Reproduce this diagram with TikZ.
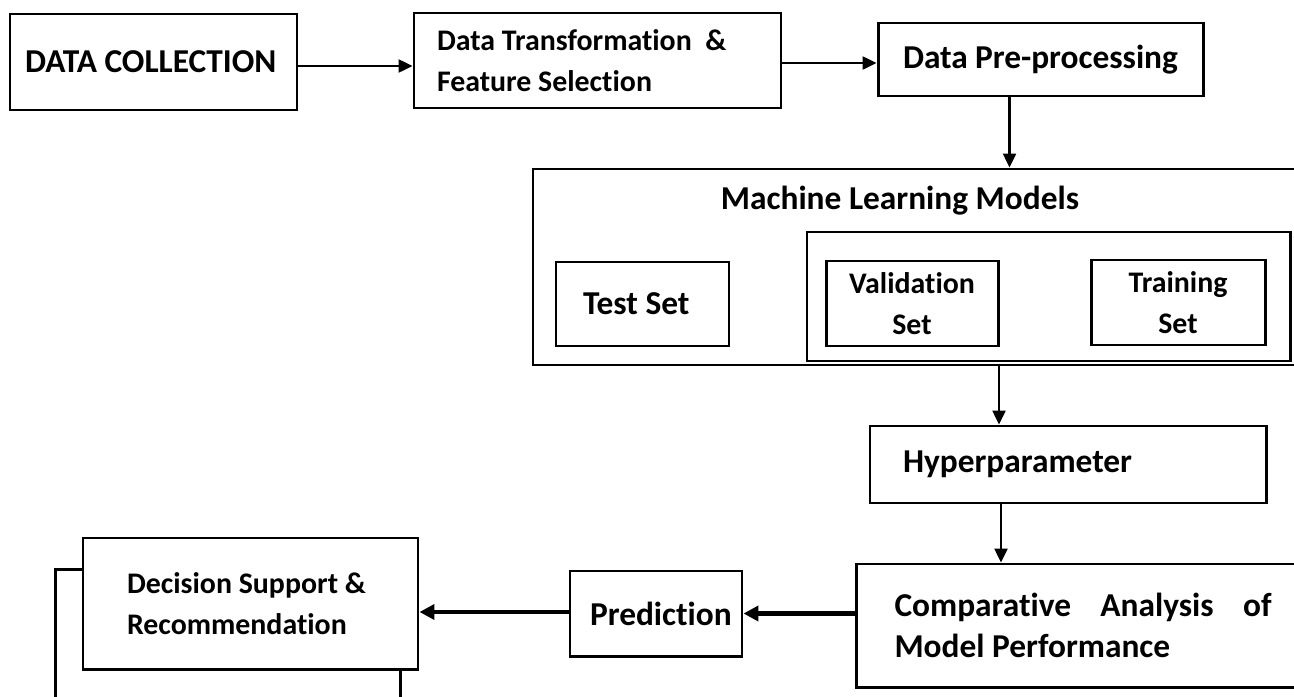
\documentclass[tikz,border=0pt]{standalone}
\usepackage{fontspec}
\setmainfont{Carlito}[Ligatures=NoCommon]
\usetikzlibrary{arrows.meta}

\begin{document}
\begin{tikzpicture}[
  box/.style={draw, line width=1.7pt, align=flush left, inner ysep=0pt,
    font=\bfseries\fontsize{19}{23}\selectfont},
  smallbox/.style={box, font=\bfseries\fontsize{17}{23}\selectfont},
  flow/.style={line width=1.4pt, -{Triangle[length=0.28cm,width=0.26cm]}},
  bigflow/.style={line width=2.4pt, -{Triangle[length=0.3cm,width=0.3cm]}},
  wire/.style={line width=1.7pt}
]
  \useasboundingbox (0,0) rectangle (25.88,-13.94);
  \clip (0,0) rectangle (25.88,-13.94);

  \node[box, minimum width=5.74cm, minimum height=1.92cm, inner xsep=0.3cm,
    text width=5.14cm] (dc) at (3.07,-1.24) {DATA COLLECTION};
  \node[smallbox, minimum width=7.34cm, minimum height=1.9cm, inner xsep=0.46cm,
    text width=6.42cm] (dt) at (11.95,-1.21)
    {\mbox{Data Transformation~ \&}\\Feature Selection};
  \node[box, minimum width=6.5cm, minimum height=1.46cm, inner xsep=0.5cm,
    text width=5.5cm] (pp) at (20.81,-1.19) {Data Pre-processing};

  \node[box, minimum width=15.54cm, minimum height=3.92cm] (ml)
    at (18.43,-5.34) {};
  \node[font=\bfseries\fontsize{19}{23}\selectfont] (mltitle) at (18.0,-4.02)
    {Machine Learning Models};
  \node[box, minimum width=3.46cm, minimum height=1.68cm, inner xsep=0.54cm,
    text width=2.38cm] (ts) at (12.85,-6.08) {Test Set};
  \node[box, minimum width=9.66cm, minimum height=2.58cm] (sets)
    at (20.97,-5.93) {};
  \node[smallbox, align=flush center, minimum width=3.44cm, minimum height=1.7cm,
    text width=3cm] (vs) at (18.24,-6.07) {Validation\\Set};
  \node[smallbox, align=flush center, minimum width=3.48cm, minimum height=1.7cm,
    text width=3cm] (trs) at (23.56,-6.05) {Training\\Set};

  \node[box, minimum width=7.92cm, minimum height=1.54cm, inner xsep=0.66cm,
    text width=6.6cm] (hp) at (21.36,-9.29) {Hyperparameter};
  \node[box, align=justify, minimum width=9.08cm, minimum height=2.46cm,
    text width=7.54cm] (ca) at (21.66,-12.51)
    {Comparative Analysis of\linebreak Model Performance};
  \node[box, minimum width=3.44cm, minimum height=1.7cm, inner xsep=0.4cm,
    text width=2.64cm] (pr) at (13.12,-12.27) {Prediction};
  \node[smallbox, minimum width=6.7cm, minimum height=2.62cm, inner xsep=0.88cm,
    text width=4.94cm] (ds) at (5.01,-12.07)
    {\mbox{Decision Support \&}\\Recommendation};

  \coordinate (ppout) at ([xshift=-0.62cm]pp.south);
  \coordinate (hpin) at ([xshift=-1.38cm]hp.north);
  \coordinate (cain) at ([xshift=-1.64cm]ca.north);
  \coordinate (dsleft) at ([yshift=-0.66cm]ds.north west);
  \coordinate (dsdown) at ([xshift=-0.38cm]ds.south east);

  \draw[flow] ([yshift=-0.08cm]dc.east) -- ([yshift=-0.08cm]dc.east -| dt.west);
  \draw[flow] ([yshift=-0.05cm]dt.east) -- ([yshift=-0.05cm]dt.east -| pp.west);
  \draw[flow] (ppout) -- (ppout |- ml.north);
  \draw[flow] (hpin |- ml.south) -- (hpin);
  \draw[flow] (cain |- hp.south) -- (cain);
  \draw[bigflow] (ca.west |- pr.east) -- (pr.east);
  \draw[bigflow] ([yshift=0.03cm]pr.west) -- ([yshift=0.03cm]pr.west -| ds.east);
  \draw[wire] (dsleft) -- ++(-0.52,0) -- ++(0,-3);
  \draw[wire] (dsdown) -- ++(0,-1);
\end{tikzpicture}
\end{document}
